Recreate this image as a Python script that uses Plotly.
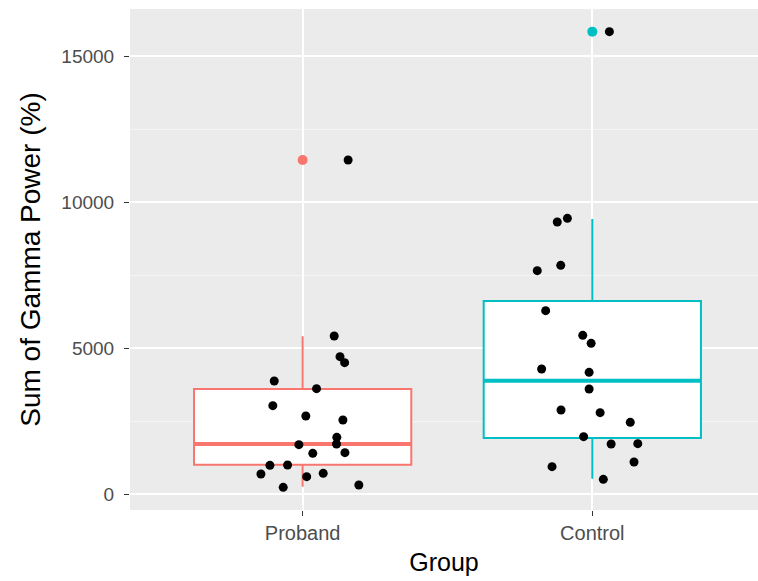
import plotly.graph_objects as go

# ---------------- data ----------------
groups = ["Proband", "Control"]
group_pos = [1, 2]
colors = ["#F8766D", "#00BFC4"]

# box statistics
box_low = [250, 520]
box_q1 = [1005, 1918]
box_median = [1712, 3881]
box_q3 = [3596, 6610]
box_high = [5400, 9420]
outlier_vals = [11438, 15834]

# jittered observations
proband_vals = [5411, 4703, 4498, 3870, 3607, 3025, 2671, 2534, 1941, 1712, 1689,
                1393, 1416, 982, 993, 685, 593, 708, 228, 308, 11438]
proband_jit = [0.109, 0.129, 0.145, -0.098, 0.048, -0.103, 0.011, 0.139, 0.118, 0.117, -0.013,
               0.035, 0.146, -0.113, -0.052, -0.144, 0.014, 0.071, -0.067, 0.194, 0.157]
control_vals = [9315, 9441, 7832, 7648, 6279, 5434, 5160, 4281, 4167, 3596, 2877,
                2785, 2454, 1963, 1712, 1724, 1096, 936, 502, 15834]
control_jit = [-0.121, -0.086, -0.109, -0.190, -0.161, -0.033, -0.004, -0.175, -0.011, -0.011, -0.108,
               0.027, 0.131, -0.030, 0.065, 0.157, 0.144, -0.139, 0.038, 0.059]

y_ticks = [0, 5000, 10000, 15000]
y_tick_labels = ["0", "5000", "10000", "15000"]

BOX_W = 0.75
FONT = "Liberation Sans, Arial, sans-serif"

fig = go.Figure()

for i, g in enumerate(groups):
    fig.add_trace(go.Box(
        x=[group_pos[i]], q1=[box_q1[i]], median=[box_median[i]], q3=[box_q3[i]],
        lowerfence=[box_low[i]], upperfence=[box_high[i]],
        width=BOX_W, fillcolor="white", line=dict(color=colors[i], width=2),
        boxpoints=False, whiskerwidth=0, showlegend=False, name=g,
    ))
    # thicker median line
    fig.add_trace(go.Scatter(
        x=[group_pos[i] - BOX_W / 2, group_pos[i] + BOX_W / 2],
        y=[box_median[i], box_median[i]], mode="lines",
        line=dict(color=colors[i], width=4), showlegend=False, hoverinfo="skip",
    ))
    # coloured outlier
    fig.add_trace(go.Scatter(
        x=[group_pos[i]], y=[outlier_vals[i]], mode="markers",
        marker=dict(color=colors[i], size=10, line=dict(width=0)), showlegend=False,
    ))

for pos, vals, jit in [(group_pos[0], proband_vals, proband_jit),
                       (group_pos[1], control_vals, control_jit)]:
    fig.add_trace(go.Scatter(
        x=[pos + j for j in jit], y=vals, mode="markers",
        marker=dict(color="black", size=9, line=dict(width=0)), showlegend=False,
    ))

fig.update_layout(
    width=758, height=581,
    margin=dict(l=130, r=0, t=9, b=71),
    paper_bgcolor="white", plot_bgcolor="#EBEBEB",
    font=dict(family=FONT, color="#4D4D4D"),
    showlegend=False,
)
fig.update_xaxes(
    range=[0.404, 2.572], tickvals=group_pos, ticktext=groups,
    showgrid=True, gridcolor="white", gridwidth=2, zeroline=False,
    ticks="outside", ticklen=5, tickcolor="#333333", tickwidth=1.2,
    tickfont=dict(size=20, color="#4D4D4D"),
    title=dict(text="Group", font=dict(size=25, color="black"), standoff=10),
    showline=False,
)
fig.update_yaxes(
    range=[-548, 16610], tickvals=y_ticks, ticktext=y_tick_labels,
    showgrid=True, gridcolor="white", gridwidth=2, zeroline=False,
    ticks="outside", ticklen=5, tickcolor="#333333", tickwidth=1.2,
    ticklabelstandoff=6,
    tickfont=dict(size=19, color="#4D4D4D"),
    minor=dict(dtick=2500, tick0=0, showgrid=True, gridcolor="#F5F5F5", gridwidth=1, ticks=""),
    title=dict(text="Sum of Gamma Power (%)", font=dict(size=28, color="black"), standoff=12),
    showline=False,
)

fig.write_html("out.html")
